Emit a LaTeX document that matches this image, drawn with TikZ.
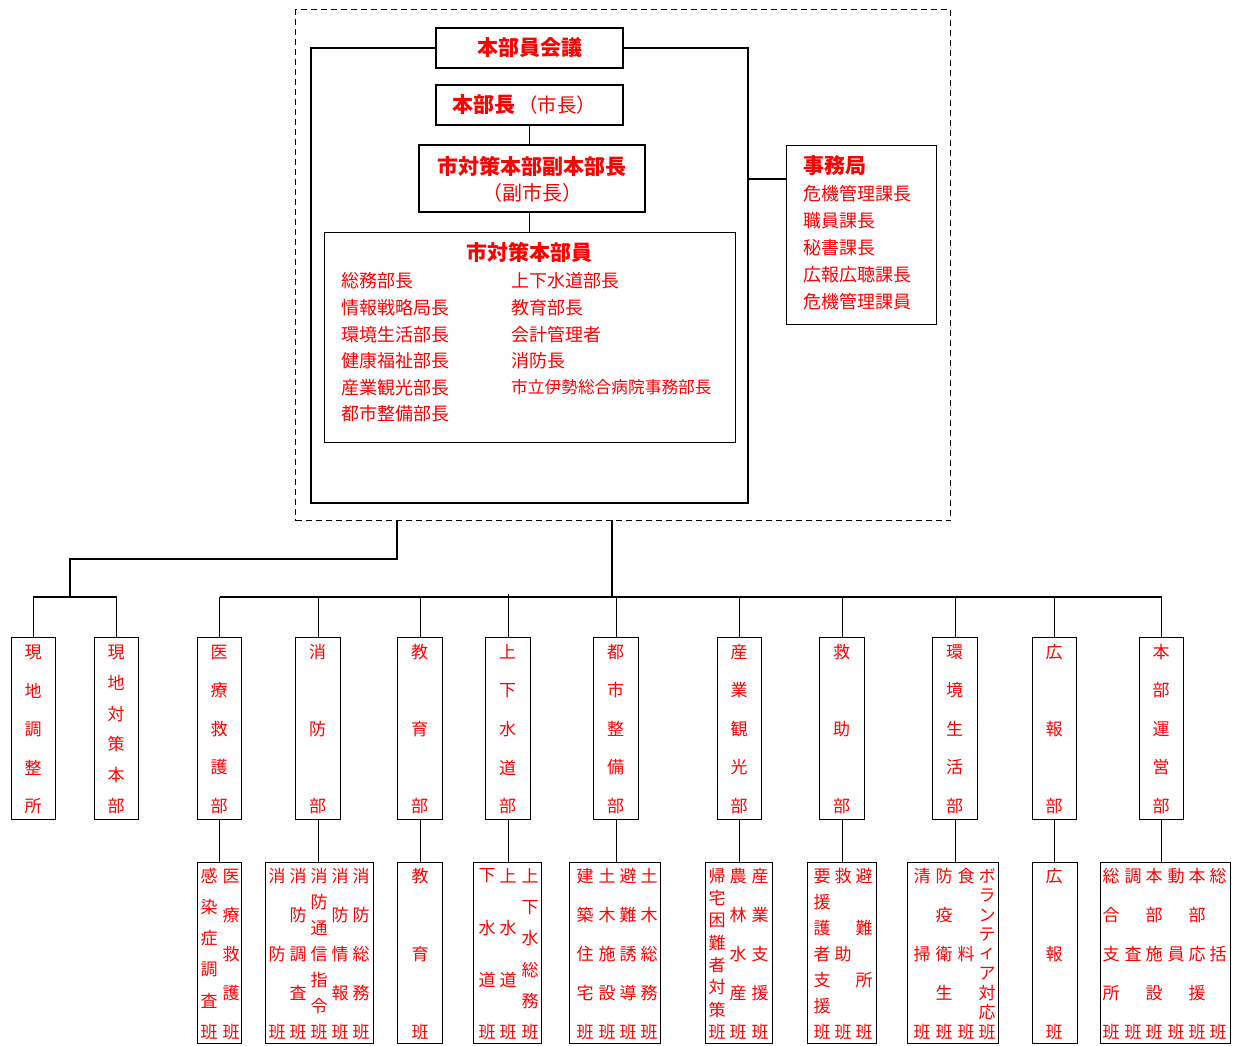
\documentclass[tikz,border=0pt]{standalone}
\usepackage{fontspec}
\setmainfont{Noto Sans CJK JP}
\definecolor{tx}{RGB}{255,0,0}
\newcommand\vcol[6]{%
  \foreach \ch [count=\k] in {#6} {%
    \node[vt] (#1-\k) at ({#2},{#3+(\k-1)*(#4-#3)/(#5-1)}) {\ch};}}
\newcommand\dept[5]{%
  \node[box, minimum width={(#3-#2)*1pt}, minimum height=182pt, anchor=north west] (#1) at (#2,637) {};
  \vcol{#1t}{(#2+#3)/2}{652}{806}{#4}{#5}}
\newcommand\subbox[3]{%
  \node[box, minimum width={(#3-#2)*1pt}, minimum height=181pt, anchor=north west] (#1) at (#2,862) {};}
\newcommand\scol[4]{\vcol{#1}{#2}{876}{1032}{#3}{#4}}
\begin{document}
\begin{tikzpicture}[x=1pt,y=-1pt,
  box/.style={draw, line width=1.1pt, inner sep=0pt},
  ln/.style={line width=1.1pt},
  tt/.style={text=tx, font=\fontsize{18}{26}\selectfont, inner sep=0pt},
  ttb/.style={text=tx, font=\fontsize{21}{26}\selectfont\bfseries, inner sep=0pt},
  vt/.style={text=tx, font=\fontsize{17}{20}\selectfont, inner sep=0pt}]
\useasboundingbox (0,0) rectangle (1237,1046);

% outer dashed region
\node[draw, dash pattern=on 6pt off 4pt, line width=1.2pt, inner sep=0pt,
  minimum width=655pt, minimum height=511pt, anchor=north west] (outer) at (295,9) {};

% headquarters boxes
\node[box, minimum width=187pt, minimum height=40pt] (kaigi) at (529.5,48) {};
\node[ttb] (kaigiT) at (529.5,48) {本部員会議};
\node[box, minimum width=187pt, minimum height=40pt] (chief) at (529.5,105) {};
\node[tt] (chiefT) at (524,105) {{\fontsize{21}{26}\selectfont\bfseries 本部長}\,{\fontsize{19.5}{26}\selectfont （市長）}};
\node[box, minimum width=226pt, minimum height=67pt] (vice) at (532,178.5) {};
\node[ttb] (viceT1) at (532,166) {市対策本部副本部長};
\node[tt] (viceT2) at (532,193) {\fontsize{20}{26}\selectfont （副市長）};
\node[box, minimum width=411pt, minimum height=210pt, anchor=north west] (mem) at (324,232) {};
\node[ttb] (memT) at (529.5,252) {市対策本部員};
\foreach \t [count=\i] in {総務部長,情報戦略局長,環境生活部長,健康福祉部長,産業観光部長,都市整備部長}
  \node[tt, anchor=west] (mL\i) at (341,{281+(\i-1)*26.6}) {\t};
\foreach \t [count=\i] in {上下水道部長,教育部長,会計管理者,消防長}
  \node[tt, anchor=west] (mR\i) at (511,{281+(\i-1)*26.6}) {\t};
\node[tt, anchor=west, font=\fontsize{16.7}{26}\selectfont] (mR5) at (511,387.4) {市立伊勢総合病院事務部長};

\node[box, minimum width=150pt, minimum height=179pt, anchor=north west] (jimu) at (786,145) {};
\node[ttb, anchor=west] (jimuT) at (803,166) {事務局};
\foreach \t [count=\i] in {危機管理課長,職員課長,秘書課長,広報広聴課長,危機管理課員}
  \node[tt, anchor=west] (jL\i) at (803,{194+(\i-1)*26.8}) {\t};

% frame and connectors in HQ
\coordinate (fBL) at (311,503);
\coordinate (fTR) at (748,48);
\coordinate (fJ) at (748,179);
\draw[ln] (kaigi.west) -| (fBL) -| (fTR) -- (kaigi.east);
\draw[ln] (chief.south) -- (chief.south |- vice.north);
\draw[ln] (chief.south |- vice.south) -- (chief.south |- mem.north);
\draw[ln] (fJ) -- (fJ -| jimu.west);

% departments
\dept{gA}{11}{55}{5}{現,地,調,整,所}
\dept{gB}{94}{138}{6}{現,地,対,策,本,部}
\dept{d1}{197}{241}{5}{医,療,救,護,部}
\dept{d2}{295}{340}{3}{消,防,部}
\dept{d3}{397}{442}{3}{教,育,部}
\dept{d4}{485}{530}{5}{上,下,水,道,部}
\dept{d5}{593}{638}{5}{都,市,整,備,部}
\dept{d6}{717}{761}{5}{産,業,観,光,部}
\dept{d7}{819}{864}{3}{救,助,部}
\dept{d8}{932}{977}{5}{環,境,生,活,部}
\dept{d9}{1032}{1076}{3}{広,報,部}
\dept{d10}{1139}{1183}{5}{本,部,運,営,部}

% tree connectors
\coordinate (dl) at (397,520);
\coordinate (dm) at (612,520);
\coordinate (jL) at (70,559);
\coordinate (bar) at (0,597);
\draw[ln] (dl) |- (jL) -- (jL |- bar);
\draw[ln] (gA.north) -- (gA.north |- bar) -- (gB.north |- bar) -- (gB.north);
\draw[ln] (dm) -- (dm |- bar);
\draw[ln] (d1.north |- bar) -- (d10.north |- bar);
\foreach \d in {d1,d2,d3,d5,d6,d7,d8,d9,d10}
  \draw[ln] (\d.north) -- (\d.north |- bar);
\draw[ln] (d4.north) -- ([yshift=3pt]d4.north |- bar);

% sub-units
\subbox{s1}{197}{241}
\subbox{s2}{265}{373}
\subbox{s3}{397}{442}
\subbox{s4}{473}{541}
\subbox{s5}{569}{660}
\subbox{s6}{705}{772}
\subbox{s7}{807}{876}
\subbox{s8}{907}{998}
\subbox{s9}{1032}{1077}
\subbox{s10}{1100}{1230}
\foreach \d/\s in {d1/s1,d2/s2,d3/s3,d4/s4,d5/s5,d6/s6,d7/s7,d8/s8,d9/s9,d10/s10}
  \draw[ln] (\d.south) -- (\d.south |- \s.north);

\scol{s1a}{231}{5}{医,療,救,護,班}
\scol{s1b}{209}{6}{感,染,症,調,査,班}
\scol{s2a}{361}{5}{消,防,総,務,班}
\scol{s2b}{340}{5}{消,防,情,報,班}
\scol{s2c}{319}{7}{消,防,通,信,指,令,班}
\scol{s2d}{298}{5}{消,防,調,査,班}
\scol{s2e}{277}{3}{消,防,班}
\scol{s3a}{420}{3}{教,育,班}
\scol{s4a}{530}{6}{上,下,水,総,務,班}
\scol{s4b}{508}{4}{上,水,道,班}
\scol{s4c}{487}{4}{下,水,道,班}
\scol{s5a}{649}{5}{土,木,総,務,班}
\scol{s5b}{628}{5}{避,難,誘,導,班}
\scol{s5c}{607}{5}{土,木,施,設,班}
\scol{s5d}{585}{5}{建,築,住,宅,班}
\scol{s6a}{760}{5}{産,業,支,援,班}
\scol{s6b}{738}{5}{農,林,水,産,班}
\scol{s6c}{717}{8}{帰,宅,困,難,者,対,策,班}
\scol{s7a}{864}{4}{避,難,所,班}
\scol{s7b}{843}{3}{救,助,班}
\scol{s7c}{822}{7}{要,援,護,者,支,援,班}
\scol{s8a}{987}{9}{ボ,ラ,ン,テ,ィ,ア,対,応,班}
\scol{s8b}{966}{3}{食,料,班}
\scol{s8c}{944}{5}{防,疫,衛,生,班}
\scol{s8d}{922}{3}{清,掃,班}
\scol{s9a}{1054}{3}{広,報,班}
\scol{s10a}{1218}{3}{総,括,班}
\scol{s10b}{1197}{5}{本,部,応,援,班}
\scol{s10c}{1176}{3}{動,員,班}
\scol{s10d}{1154}{5}{本,部,施,設,班}
\scol{s10e}{1133}{3}{調,査,班}
\scol{s10f}{1111}{5}{総,合,支,所,班}
\end{tikzpicture}
\end{document}
